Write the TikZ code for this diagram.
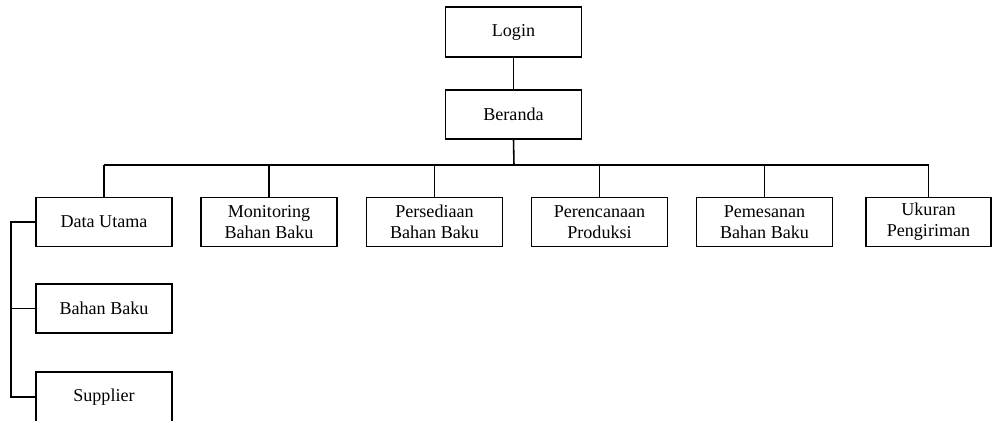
\documentclass[tikz,border=0pt]{standalone}
\usepackage{fontspec}
\setmainfont{Liberation Serif}
\begin{document}
\begin{tikzpicture}[x=0.02cm,y=-0.02cm,
  menu/.style={draw,line width=0.6pt,minimum width=2.72cm,minimum height=0.98cm,
    align=center,inner sep=1pt,font=\fontsize{10.3}{12}\selectfont},
  link/.style={line width=0.6pt},
  trunk/.style={line width=0.9pt}]
\useasboundingbox (0,0) rectangle (995,420);

% Login and home
\node[menu,minimum height=1cm] (login) at (513.5,32) {Login};
\node[menu] (beranda) at (513.5,114.5) {Beranda};
\draw[link] (login) -- (beranda);

% Main menu row
\foreach \name/\x/\txt in {utama/104/{Data Utama},
    monitor/269/{Monitoring\\Bahan Baku},
    sedia/434.5/{Persediaan\\Bahan Baku},
    rencana/599.5/{Perencanaan\\Produksi},
    pesan/764.5/{Pemesanan\\Bahan Baku}} {
  \node[menu] (\name) at (\x,222) {\txt};
}
\node[menu,minimum width=2.5cm] (ukuran) at (928.5,222) {Ukuran\\Pengiriman};

% Bus from home to menu row
\coordinate (bus) at (514,165);
\draw[trunk] (beranda.south) -- (bus);
\draw[trunk] (bus -| utama.north) -- (bus -| ukuran.north);
\foreach \name in {utama,monitor,sedia,rencana,pesan,ukuran} {
  \draw[link] (bus -| \name.north) -- (\name.north);
}

% Sub menu of Data Utama
\node[menu] (bahan) at (104,308.5) {Bahan Baku};
\node[menu,minimum height=1cm] (supplier) at (104,397) {Supplier};
\coordinate (spine) at (11,222);
\draw[link] (utama.west) -- (utama.west -| spine) -- (supplier.west -| spine) -- (supplier.west);
\draw[link] (bahan.west) -- (bahan.west -| spine);

\end{tikzpicture}
\end{document}
